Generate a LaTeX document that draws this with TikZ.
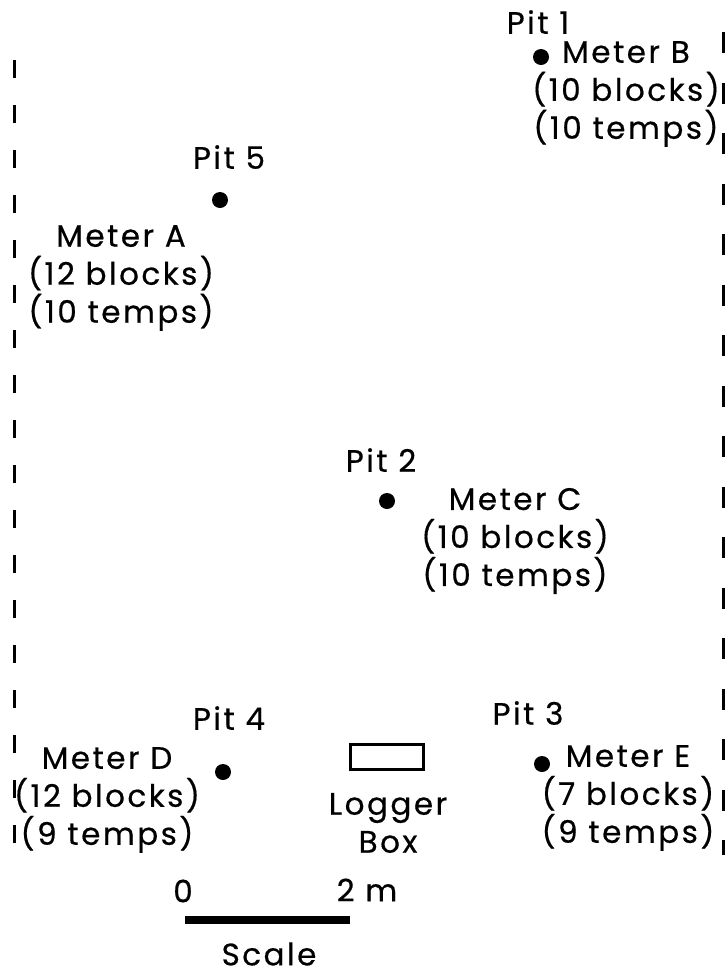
\documentclass[tikz,border=0pt]{standalone}
\usepackage{fontspec}
\setmainfont[LetterSpace=8, FakeBold=0.5]{Poppins}
\begin{document}
\begin{tikzpicture}[x=1pt, y=-1pt,
		      lbl/.style={align=center, inner sep=0pt, font=\fontsize{31}{38}\selectfont},
		      pitdot/.style={circle, fill, inner sep=0pt, minimum size=16pt},
		      fence/.style={line width=3pt, dash pattern=on 18pt off 27pt}]
		      \useasboundingbox (0,0) rectangle (728,975);

		      \draw[fence] (14,60) -- (14,845);
		      \draw[fence, dash pattern=on 21pt off 29.5pt] (723,32) -- (723,855);

		      \node[lbl] (pit1) at (538,22) {Pit 1};
		      \node[pitdot] (p1) at (541,57) {};
		      \node[lbl] (meterB) at (626,94) {Meter B\\(10 blocks)\\(10 temps)};

		      \node[lbl] (pit5) at (229,157) {Pit 5};
		      \node[pitdot] (p5) at (220,200) {};
		      \node[lbl] (meterA) at (121,278) {Meter A\\(12 blocks)\\(10 temps)};

		      \node[lbl] (pit2) at (381,460) {Pit 2};
		      \node[pitdot] (p2) at (387,501) {};
		      \node[lbl] (meterC) at (515,541) {Meter C\\(10 blocks)\\(10 temps)};

		      \node[lbl] (pit4) at (229,718) {Pit 4};
		      \node[pitdot] (p4) at (223,772) {};
		      \node[lbl] (meterD) at (107,800) {Meter D\\(12 blocks)\\(9 temps)};

		      \node[draw, line width=2.2pt, minimum width=73pt, minimum height=25pt, inner sep=0pt] (box) at (387,757) {};
		      \node[lbl] (logger) at (388,823) {Logger\\Box};

		      \node[lbl] (pit3) at (528,713) {Pit 3};
		      \node[pitdot] (p3) at (542,764) {};
		      \node[lbl] (meterE) at (628,798) {Meter E\\(7 blocks)\\(9 temps)};

		      \node[lbl] (zero) at (183,891) {0};
		      \node[lbl] (two) at (367,890) {2 m};
		      \coordinate (bar0) at (185,920);
		      \coordinate (bar2) at (350,920);
		      \draw[line width=8pt] (bar0) -- (bar2);
		      \node[lbl] (scale) at (269,954) {Scale};
	      \end{tikzpicture}
\end{document}
